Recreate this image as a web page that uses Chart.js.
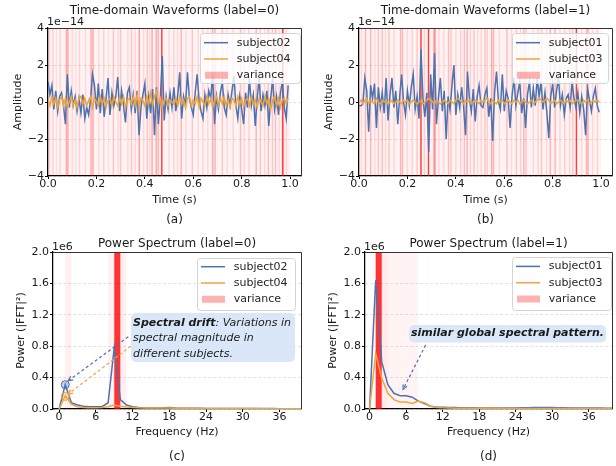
<!DOCTYPE html>
<html>
<head>
<meta charset="utf-8">
<script src="https://cdn.jsdelivr.net/npm/chart.js@4.4.0/dist/chart.umd.min.js"></script>
<style>
  body { margin: 0; background: #fff; }
  #wrap { position: relative; width: 616px; height: 466px; overflow: hidden; background: #fff; }
  canvas { position: absolute; }
</style>
</head>
<body>
<div id="wrap">
  <canvas id="chartA" width="308" height="232" style="left:0;top:0"></canvas>
  <canvas id="chartB" width="308" height="232" style="left:308px;top:0"></canvas>
  <canvas id="chartC" width="308" height="234" style="left:0;top:232px"></canvas>
  <canvas id="chartD" width="308" height="234" style="left:308px;top:232px"></canvas>
</div>
<script>
// ---- tick labels ----
const timeTicks = [0, 0.2, 0.4, 0.6, 0.8, 1.0];
const ampTicks = [-4, -2, 0, 2, 4];          // x 1e-14
const freqTicks = [0, 6, 12, 18, 24, 30, 36];
const powerTicks = [0, 0.4, 0.8, 1.2, 1.6, 2.0]; // x 1e6

// ---- time-domain waveforms (x 1e-14), one sample every 0.008 s ----
const sampleStep = 0.008;
const waveA_s02 = [1.1, 0.4, 0.9, -0.4, 0.6, -0.5, 0.3, 0.5, -0.2, -1.2, 1.5, -0.3, 0.6, -0.2, 0.3, -0.5, 0.2, -0.6, 0.4, -0.9,
  -0.3, -0.7, 0.2, 1.5, 0.9, -0.4, 1.0, -0.6, 0.7, -0.8, 0.2, 1.3, -0.7, 0.5, -0.2, 0.3, 1.35, -0.5, 0.6, -0.2,
  -1.1, 0.5, 0.8, -0.4, 0.4, -0.6, 0.6, -1.8, -0.3, 0.4, 1.0, -0.9, 0.3, -0.6, 0.7, -1.8, 0.8, -1.2, 0.2, 2.5,
  -1.0, 0.3, -0.4, 0.5, -0.3, 0.8, -0.5, 0.4, 1.6, -0.9, 0.3, -0.2, 1.6, 0.2, -0.3, -0.7, 0.5, 1.5, 0.1, -0.5,
  -0.9, 0.4, -0.3, 0.6, 0.2, 1.5, -1.2, 0.3, -0.4, 0.5, 1.1, -0.3, -0.7, 0.4, -0.2, 0.6, 1.4, -0.2, -0.9, 0.3,
  -0.4, -1.2, 0.5, -0.3, 1.3, -0.2, 0.4, -1.3, 0.2, 1.3, -0.5, 0.4, -0.2, 0.6, -1.3, 0.2, 1.3, -0.4, 0.3, -0.7,
  0.5, 1.1, -0.3, -0.9, 0.9];
const waveA_s04 = [0.1, -0.2, 0.3, -0.1, 0.2, -0.3, 0.1, 0.3, -0.2, 0.2, -0.3, 0.0, 0.3, -0.2, 0.1, -0.3, 0.2, 0.3, -0.1, 0.2,
  -0.2, 0.1, 0.3, -0.3, 0.2, 0.0, -0.2, 0.3, -0.1, 0.2, -0.3, 0.1, 0.2, -0.2, 0.3, 0.0, -0.2, 0.2, -0.1, 0.3,
  -0.3, 0.1, 0.2, -0.1, 0.3, -0.2, 0.4, -0.3, 0.2, 0.1, -0.2, 0.3, -0.1, 0.5, -0.2, 0.3, 0.6, -0.1, 0.2, -0.3,
  0.1, 0.2, -0.2, 0.1, 0.0, -0.1, 0.2, -0.2, 0.3, -0.1, 0.1, -0.3, 0.2, 0.3, -0.2, 0.1, -0.1, 0.3, -0.3, 0.2,
  0.0, -0.2, 0.3, -0.1, 0.2, -0.3, 0.1, 0.3, -0.2, 0.2, -0.1, 0.3, -0.2, 0.1, -0.3, 0.2, 0.1, -0.2, 0.3, -0.1,
  0.2, -0.3, 0.1, 0.2, -0.2, 0.3, -0.1, 0.1, -0.3, 0.2, 0.0, -0.2, 0.3, -0.1, 0.2, -0.4, 0.1, 0.3, -0.2, 0.2,
  -0.3, 0.1, 0.2, -0.1, 0.2];
const waveB_s01 = [-0.2, -0.2, -0.1, 1.3, 0.6, -1.6, 0.9, 0.2, 1.0, -1.4, 0.8, -0.3, 0.5, -0.6, 1.3, -1.0, 0.4, 1.3, -0.3, 0.6,
  -1.2, 0.3, 1.5, 0.0, -0.7, 0.6, -0.2, 0.8, 1.5, -0.4, 0.3, -0.9, 2.85, 0.2, -0.8, 0.5, -2.7, 1.5, -0.4, 2.65,
  -1.2, 0.2, 1.3, -0.5, 0.6, -2.0, 0.3, -0.4, 0.9, 2.0, -0.7, 0.4, -0.3, 0.8, -0.2, -1.8, 1.65, 0.2, -0.5, 0.7,
  -1.05, 0.3, 0.9, -0.2, -0.3, 0.4, 0.75, -0.8, 0.2, -2.1, 0.5, 1.65, 0.0, -0.4, 1.5, -0.5, 0.6, 0.2, -1.4, 0.3,
  1.3, -0.2, 0.5, 1.1, -0.6, 0.2, -1.4, 0.4, 1.1, -0.3, 0.75, -0.2, 1.3, 0.3, 1.1, -0.4, 0.5, -0.6, -1.95, 0.3,
  1.0, -0.3, 0.6, 1.3, -0.2, 0.4, -0.7, 0.2, 0.4, -0.3, 1.1, 0.2, -0.3, 0.5, -0.6, 0.3, -0.4, -1.8, 0.75, 0.1,
  -0.5, 0.3, 0.75, -0.2, -0.55];
const waveB_s03 = [0.0, 0.1, -0.1, 0.1, 0.2, -0.1, 0.1, 0.0, -0.1, 0.2, 0.0, -0.1, 0.1, 0.0, 0.1, -0.1, 0.0, 0.1, -0.1, 0.0,
  0.1, 0.0, -0.1, 0.1, 0.0, 0.1, -0.1, 0.0, 0.1, 0.0, -0.1, 0.0, 0.1, -0.1, 0.0, 0.1, 0.2, 0.1, 0.0, -0.1,
  0.1, 0.0, -0.1, 0.0, 0.1, 0.0, -0.1, 0.1, 0.0, -0.1, 0.1, 0.2, 0.1, 0.0, -0.1, 0.1, 0.0, 0.1, -0.1, 0.0,
  0.1, 0.0, -0.1, 0.1, 0.0, 0.1, 0.2, 0.0, -0.1, 0.1, 0.0, -0.1, 0.1, 0.0, 0.1, -0.1, 0.0, 0.1, 0.0, -0.1,
  0.1, 0.0, 0.1, -0.1, 0.0, 0.1, 0.0, -0.1, 0.0, 0.1, -0.1, 0.0, 0.1, 0.2, 0.1, 0.0, 0.1, 0.2, 0.1, -0.1,
  0.0, 0.1, -0.1, 0.0, 0.1, 0.0, -0.1, 0.1, 0.0, 0.1, -0.1, 0.0, 0.1, 0.1, 0.0, -0.1, 0.1, 0.0, 0.1, -0.1,
  0.0, 0.1, 0.0, 0.1, 0.0];

// ---- cross-subject variance along time (normalised 0..1) ----
const varA_t = [0.005, 0.02, 0.035, 0.05, 0.076, 0.082, 0.1, 0.115, 0.13, 0.155, 0.178, 0.186, 0.21, 0.23, 0.25, 0.27, 0.29, 0.3,
  0.33, 0.345, 0.36, 0.377, 0.395, 0.41, 0.42, 0.43, 0.447, 0.455, 0.47, 0.5, 0.52, 0.535, 0.55, 0.57, 0.596, 0.62,
  0.64, 0.66, 0.68, 0.69, 0.72, 0.74, 0.765, 0.795, 0.81, 0.83, 0.86, 0.877, 0.895, 0.91, 0.927, 0.94, 0.955, 0.968, 0.97, 0.985];
const varA_v = [0.18, 0.18, 0.12, 0.18, 0.4, 0.4, 0.15, 0.12, 0.18, 0.15, 0.4, 0.4, 0.15, 0.18, 0.12, 0.25, 0.15, 0.25,
  0.15, 0.25, 0.15, 0.45, 0.15, 0.25, 0.15, 0.4, 0.4, 0.35, 1.0, 0.15, 0.2, 0.15, 0.35, 0.15, 0.25, 0.15,
  0.18, 0.15, 0.4, 0.35, 0.25, 0.15, 0.18, 0.3, 0.15, 0.2, 0.35, 0.25, 0.15, 0.3, 0.25, 0.3, 0.15, 0.3, 1.0, 0.18];
const varB_t = [0.01, 0.027, 0.048, 0.065, 0.08, 0.096, 0.11, 0.124, 0.145, 0.172, 0.18, 0.2, 0.22, 0.24, 0.256, 0.27, 0.287, 0.31,
  0.315, 0.33, 0.35, 0.37, 0.38, 0.4, 0.42, 0.435, 0.447, 0.46, 0.475, 0.49, 0.505, 0.52, 0.53, 0.548, 0.556, 0.58,
  0.611, 0.63, 0.65, 0.668, 0.681, 0.69, 0.72, 0.74, 0.754, 0.775, 0.79, 0.81, 0.83, 0.85, 0.87, 0.883, 0.898, 0.92,
  0.94, 0.946, 0.965, 0.985];
const varB_v = [0.15, 0.35, 0.35, 0.15, 0.25, 0.3, 0.15, 0.25, 0.15, 0.35, 0.3, 0.15, 0.18, 0.25, 1.0, 0.2, 1.0, 0.5,
  0.4, 0.18, 0.15, 0.3, 0.25, 0.15, 0.2, 0.3, 0.35, 0.2, 0.25, 0.15, 0.18, 0.25, 0.2, 0.4, 0.35, 0.15,
  0.3, 0.15, 0.25, 0.2, 0.35, 0.25, 0.15, 0.2, 0.25, 0.15, 0.35, 0.35, 0.15, 0.2, 0.18, 0.25, 1.0, 0.15,
  0.35, 0.35, 0.15, 0.2];

// ---- power spectra (x 1e6), one value per 1 Hz bin ----
const specC_s02 = [0, 0.31, 0.08, 0.05, 0.035, 0.03, 0.03, 0.03, 0.08, 0.78, 0.12, 0.05, 0.03, 0.02, 0.015, 0.012, 0.012, 0.015, 0.02, 0.012,
  0.01, 0.009, 0.008, 0.008, 0.007, 0.007, 0.007, 0.006, 0.006, 0.006, 0.006, 0.005, 0.005, 0.005, 0.005, 0.005, 0.004, 0.004, 0.004, 0.004, 0.004];
const specC_s04 = [0, 0.17, 0.06, 0.03, 0.02, 0.015, 0.015, 0.02, 0.03, 0.05, 0.035, 0.025, 0.02, 0.016, 0.014, 0.013, 0.012, 0.012, 0.012, 0.01,
  0.009, 0.008, 0.008, 0.007, 0.007, 0.006, 0.006, 0.006, 0.005, 0.005, 0.005, 0.005, 0.005, 0.004, 0.004, 0.004, 0.004, 0.004, 0.004, 0.004, 0.004];
const specD_s01 = [0, 1.64, 0.6, 0.31, 0.2, 0.17, 0.17, 0.15, 0.1, 0.07, 0.035, 0.025, 0.022, 0.02, 0.018, 0.016, 0.015, 0.015, 0.014, 0.014,
  0.014, 0.013, 0.013, 0.013, 0.014, 0.015, 0.016, 0.018, 0.02, 0.02, 0.018, 0.016, 0.015, 0.014, 0.013, 0.013, 0.012, 0.012, 0.012, 0.011, 0.011];
const specD_s03 = [0, 0.71, 0.39, 0.2, 0.12, 0.09, 0.09, 0.07, 0.1, 0.08, 0.035, 0.02, 0.015, 0.012, 0.01, 0.01, 0.009, 0.009, 0.008, 0.008,
  0.008, 0.008, 0.007, 0.007, 0.007, 0.007, 0.007, 0.007, 0.007, 0.007, 0.007, 0.006, 0.006, 0.006, 0.006, 0.006, 0.006, 0.006, 0.006, 0.006, 0.006];

// cross-subject variance per frequency bin (normalised 0..1)
const varC = [0, 0.08, 0, 0, 0, 0, 0, 0, 0.07, 1.0, 0.07, 0, 0, 0, 0, 0, 0, 0, 0, 0];
const varD = [0, 1.0, 0.1, 0.06, 0.06, 0.06, 0.06, 0.06, 0, 0, 0, 0, 0, 0, 0, 0, 0, 0, 0, 0];

// marked peaks in (c)
const peakC = [{x: 1, y: 0.31}, {x: 1, y: 0.16}];

const FONT = 'DejaVu Sans';
const BLUE = '#4c72b0';
const ORANGE = '#f0a43c';
const TXT = '#1a1a1a';

const toPts = (arr, step) => arr.map((v, i) => ({x: i * step, y: v}));

function timeBands(ts, vs) {
  const out = [{from: 0, to: 1.0, alpha: 0.05}];
  ts.forEach((t, i) => out.push({from: t - 0.003, to: t + 0.003, alpha: vs[i] * 0.75}));
  return out;
}
function binBands(vs) {
  const out = [];
  vs.forEach((v, i) => { if (v > 0) out.push({from: i, to: i + 1, alpha: v * 0.8}); });
  return out;
}

const legendItems = (a, b) => [
  {label: a, color: BLUE},
  {label: b, color: ORANGE},
  {label: 'variance', color: 'rgba(255,0,0,0.3)', patch: true}
];

const decor = {
  chartA: {
    title: 'Time-domain Waveforms (label=0)', titleY: 11, label: '(a)', labelY: 220,
    offsetText: '1e\u221214', offsetY: 22,
    legend: {x: 200, y: 33, w: 100, h: 50, rowTop: 9.7, rowGap: 16.3, items: legendItems('subject02', 'subject04')},
    bands: timeBands(varA_t, varA_v)
  },
  chartB: {
    title: 'Time-domain Waveforms (label=1)', titleY: 11, label: '(b)', labelY: 220,
    offsetText: '1e\u221214', offsetY: 22,
    legend: {x: 204, y: 33, w: 96, h: 50, rowTop: 9.7, rowGap: 16.3, items: legendItems('subject01', 'subject03')},
    bands: timeBands(varB_t, varB_v)
  },
  chartC: {
    title: 'Power Spectrum (label=0)', titleY: 12, label: '(c)', labelY: 224.7,
    offsetText: '1e6', offsetY: 14.7,
    legend: {x: 197, y: 26, w: 98, h: 52, rowTop: 8.7, rowGap: 16.3, items: legendItems('subject02', 'subject04')},
    bands: binBands(varC),
    note: {box: [131, 81, 164, 49], x: 133, y: 90.7, gap: 15.6, lines: [
      [{t: 'Spectral drift', b: true}, {t: ': Variations in'}],
      [{t: 'spectral magnitude in'}],
      [{t: 'different subjects.'}]
    ]},
    arrows: [
      {from: [11.3, 0.92], to: [1.5, 0.36], color: BLUE},
      {from: [11.7, 0.80], to: [1.5, 0.19], color: ORANGE}
    ]
  },
  chartD: {
    title: 'Power Spectrum (label=1)', titleY: 12, label: '(d)', labelY: 224.7,
    offsetText: '1e6', offsetY: 14.7,
    legend: {x: 204, y: 25, w: 99, h: 53, rowTop: 9.4, rowGap: 16.3, items: legendItems('subject01', 'subject03')},
    bands: binBands(varD),
    note: {box: [101, 93, 197, 17.5], x: 103, y: 101.5, gap: 15.6, lines: [
      [{t: 'similar global spectral pattern.', b: true}]
    ]},
    arrows: [
      {from: [9.2, 0.815], to: [5.5, 0.25], color: BLUE}
    ]
  }
};

function drawArrow(ctx, x0, y0, x1, y1, color) {
  ctx.save();
  ctx.strokeStyle = color;
  ctx.lineWidth = 1.2;
  ctx.setLineDash([3, 2.5]);
  ctx.beginPath(); ctx.moveTo(x0, y0); ctx.lineTo(x1, y1); ctx.stroke();
  ctx.setLineDash([]);
  const ang = Math.atan2(y1 - y0, x1 - x0), L = 5;
  ctx.beginPath();
  ctx.moveTo(x1 - L * Math.cos(ang - 0.45), y1 - L * Math.sin(ang - 0.45));
  ctx.lineTo(x1, y1);
  ctx.lineTo(x1 - L * Math.cos(ang + 0.45), y1 - L * Math.sin(ang + 0.45));
  ctx.stroke();
  ctx.restore();
}

const panelDecor = {
  id: 'panelDecor',
  beforeDatasetsDraw(chart) {
    const d = decor[chart.canvas.id];
    const {ctx, chartArea: a} = chart;
    const x = chart.scales.x;
    ctx.save();
    ctx.beginPath(); ctx.rect(a.left, a.top, a.width, a.height); ctx.clip();
    d.bands.forEach(b => {
      const x0 = x.getPixelForValue(b.from), x1 = x.getPixelForValue(b.to);
      ctx.fillStyle = 'rgba(255,0,0,' + b.alpha + ')';
      ctx.fillRect(x0, a.top, Math.max(x1 - x0, 1), a.height);
    });
    ctx.restore();
  },
  afterDraw(chart) {
    const d = decor[chart.canvas.id];
    const {ctx, chartArea: a} = chart;
    const xs = chart.scales.x, ys = chart.scales.y;
    ctx.save();
    // top and right spines
    ctx.strokeStyle = '#333';
    ctx.lineWidth = 1;
    ctx.beginPath();
    ctx.moveTo(a.left, a.top + 0.5); ctx.lineTo(a.right + 0.5, a.top + 0.5); ctx.lineTo(a.right + 0.5, a.bottom);
    ctx.stroke();

    // arrows
    (d.arrows || []).forEach(ar => {
      drawArrow(ctx, xs.getPixelForValue(ar.from[0]), ys.getPixelForValue(ar.from[1]),
        xs.getPixelForValue(ar.to[0]), ys.getPixelForValue(ar.to[1]), ar.color);
    });

    // annotation box
    if (d.note) {
      const n = d.note;
      ctx.beginPath();
      ctx.roundRect(n.box[0], n.box[1], n.box[2], n.box[3], 5);
      ctx.fillStyle = 'rgba(214,229,248,0.92)';
      ctx.fill();
      ctx.fillStyle = TXT;
      ctx.textBaseline = 'middle';
      ctx.textAlign = 'left';
      n.lines.forEach((runs, i) => {
        let cx = n.x;
        runs.forEach(r => {
          ctx.font = 'italic ' + (r.b ? 'bold ' : '') + '11px "' + FONT + '"';
          ctx.fillText(r.t, cx, n.y + i * n.gap);
          cx += ctx.measureText(r.t).width;
        });
      });
    }

    // legend
    const lg = d.legend;
    ctx.beginPath();
    ctx.roundRect(lg.x + 0.5, lg.y + 0.5, lg.w, lg.h, 3);
    ctx.fillStyle = 'rgba(255,255,255,0.8)';
    ctx.fill();
    ctx.strokeStyle = '#d4d4d4';
    ctx.lineWidth = 1;
    ctx.stroke();
    ctx.font = '11px "' + FONT + '"';
    ctx.textBaseline = 'middle';
    ctx.textAlign = 'left';
    lg.items.forEach((it, i) => {
      const y = lg.y + lg.rowTop + i * lg.rowGap;
      if (it.patch) {
        ctx.fillStyle = it.color;
        ctx.fillRect(lg.x + 5, y - 3.5, 23, 7);
      } else {
        ctx.strokeStyle = it.color;
        ctx.lineWidth = 1.5;
        ctx.beginPath(); ctx.moveTo(lg.x + 4, y); ctx.lineTo(lg.x + 28, y); ctx.stroke();
      }
      ctx.fillStyle = '#262626';
      ctx.fillText(it.label, lg.x + 36.7, y);
    });

    // title, offset text, panel label
    ctx.fillStyle = TXT;
    ctx.textAlign = 'center';
    ctx.font = '12px "' + FONT + '"';
    ctx.fillText(d.title, (a.left + a.right) / 2, d.titleY);
    ctx.fillText(d.label, (a.left + a.right) / 2, d.labelY);
    ctx.textAlign = 'left';
    ctx.font = '11px "' + FONT + '"';
    ctx.fillText(d.offsetText, a.left - 1, d.offsetY);
    ctx.restore();
  }
};

const tickFont = {family: FONT, size: 11, lineHeight: 1.0};
const titleFont = {family: FONT, size: 11};

function makeChart(id, cfg) {
  return new Chart(document.getElementById(id), {
    type: 'line',
    data: {datasets: cfg.datasets},
    options: {
      responsive: false,
      animation: false,
      events: [],
      layout: {padding: cfg.padding},
      plugins: {legend: {display: false}, tooltip: {enabled: false}, title: {display: false}},
      elements: {point: {radius: 0}, line: {borderWidth: 1.5, tension: 0}},
      scales: {
        x: {
          type: 'linear', min: cfg.xMin, max: cfg.xMax,
          afterBuildTicks: s => { s.ticks = cfg.xTicks.map(v => ({value: v})); },
          afterFit: s => { s.height = cfg.xAxisH; },
          grid: {drawOnChartArea: false, drawTicks: true, tickLength: 3, tickColor: '#000', tickWidth: 1},
          border: {display: true, color: '#000', width: 1.25},
          ticks: {color: TXT, font: tickFont, padding: 0, maxRotation: 0, autoSkip: false, callback: cfg.xFmt},
          title: {display: true, text: cfg.xTitle, color: TXT, font: titleFont, padding: {top: 0, bottom: 0}}
        },
        y: {
          type: 'linear', min: cfg.yMin, max: cfg.yMax,
          afterBuildTicks: s => { s.ticks = cfg.yTicks.map(v => ({value: v})); },
          afterFit: s => { s.width = cfg.yAxisW; },
          grid: {color: '#dcdcdc', lineWidth: 0.8, drawTicks: true, tickLength: 3, tickColor: '#000', tickWidth: 1},
          border: {display: true, color: '#000', width: 1.25, dash: [3, 2]},
          ticks: {color: TXT, font: tickFont, padding: 1, autoSkip: false, callback: cfg.yFmt},
          title: {display: true, text: cfg.yTitle, color: TXT, font: titleFont, padding: {top: cfg.yTitlePad, bottom: 0}}
        }
      }
    },
    plugins: [panelDecor]
  });
}

const lineDs = (label, pts, color, order) => ({label, data: pts, borderColor: color, backgroundColor: color, order, pointRadius: 0, fill: false});
const ampFmt = v => String(v).replace('-', '\u2212');
const timeFmt = v => v.toFixed(1);
const freqFmt = v => String(v);
const powFmt = v => v.toFixed(1);

makeChart('chartA', {
  datasets: [lineDs('subject02', toPts(waveA_s02, sampleStep), BLUE, 2), lineDs('subject04', toPts(waveA_s04, sampleStep), ORANGE, 1)],
  padding: {left: 0, top: 28, right: 7, bottom: 25.4},
  xMin: 0, xMax: 1.045, xTicks: timeTicks, xFmt: timeFmt, xTitle: 'Time (s)', xAxisH: 30.6,
  yMin: -4, yMax: 4, yTicks: ampTicks, yFmt: ampFmt, yTitle: 'Amplitude', yAxisW: 48, yTitlePad: 11.4
});
makeChart('chartB', {
  datasets: [lineDs('subject01', toPts(waveB_s01, sampleStep), BLUE, 2), lineDs('subject03', toPts(waveB_s03, sampleStep), ORANGE, 1)],
  padding: {left: 0, top: 28, right: 4, bottom: 25.4},
  xMin: 0, xMax: 1.045, xTicks: timeTicks, xFmt: timeFmt, xTitle: 'Time (s)', xAxisH: 30.6,
  yMin: -4, yMax: 4, yTicks: ampTicks, yFmt: ampFmt, yTitle: 'Amplitude', yAxisW: 51, yTitlePad: 14.1
});
makeChart('chartC', {
  datasets: [
    {type: 'scatter', label: 'peaks', data: peakC, order: 0, pointRadius: 4,
      pointBackgroundColor: ['rgba(76,114,176,0.3)', 'rgba(240,164,60,0.3)'], pointBorderColor: [BLUE, ORANGE], pointBorderWidth: 1},
    lineDs('subject02', toPts(specC_s02, 1), BLUE, 2), lineDs('subject04', toPts(specC_s04, 1), ORANGE, 1)],
  padding: {left: 0, top: 20, right: 7, bottom: 27.4},
  xMin: -1, xMax: 39.5, xTicks: freqTicks, xFmt: freqFmt, xTitle: 'Frequency (Hz)', xAxisH: 29.6,
  yMin: 0, yMax: 2.0, yTicks: powerTicks, yFmt: powFmt, yTitle: 'Power (|FFT|\u00b2)', yAxisW: 53, yTitlePad: 14.1
});
makeChart('chartD', {
  datasets: [lineDs('subject01', toPts(specD_s01, 1), BLUE, 2), lineDs('subject03', toPts(specD_s03, 1), ORANGE, 1)],
  padding: {left: 0, top: 20, right: 4, bottom: 27.4},
  xMin: -0.75, xMax: 39.8, xTicks: freqTicks, xFmt: freqFmt, xTitle: 'Frequency (Hz)', xAxisH: 29.6,
  yMin: 0, yMax: 2.0, yTicks: powerTicks, yFmt: powFmt, yTitle: 'Power (|FFT|\u00b2)', yAxisW: 57, yTitlePad: 18.1
});
</script>
</body>
</html>
